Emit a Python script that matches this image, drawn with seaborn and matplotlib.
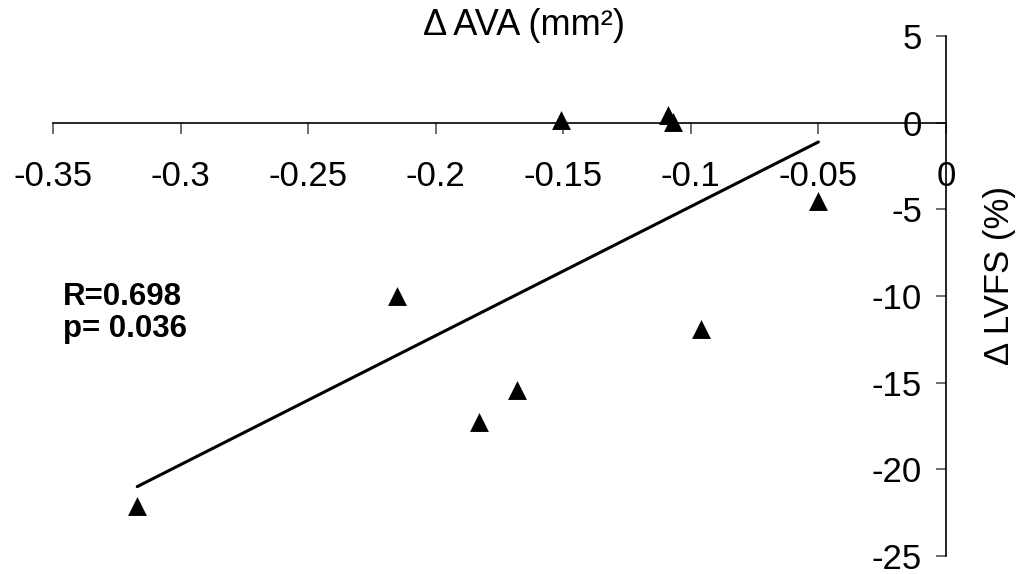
import numpy as np
import pandas as pd
import matplotlib
matplotlib.use('Agg')
import matplotlib.pyplot as plt
import seaborn as sns

# Δ AVA (mm²) vs Δ LVFS (%)
d_ava = [-0.317, -0.215, -0.183, -0.168, -0.151, -0.109, -0.107, -0.096, -0.050]
d_lvfs = [-22.1, -10.0, -17.25, -15.4, 0.17, 0.45, 0.06, -11.9, -4.5]
x_ticks = [-0.35, -0.3, -0.25, -0.2, -0.15, -0.1, -0.05, 0]
x_tick_labels = ['-0.35', '-0.3', '-0.25', '-0.2', '-0.15', '-0.1', '-0.05', '0']
y_ticks = [5, 0, -5, -10, -15, -20, -25]
stats_text = 'R=0.698\np= 0.036'

sns.set_style('white')
plt.rcParams['font.family'] = ['Liberation Sans', 'DejaVu Sans']
plt.rcParams['axes.unicode_minus'] = False
plt.rcParams['text.color'] = 'black'
plt.rcParams['axes.labelcolor'] = 'black'
plt.rcParams['xtick.labelcolor'] = 'black'
plt.rcParams['ytick.labelcolor'] = 'black'

df = pd.DataFrame({'ava': d_ava, 'lvfs': d_lvfs})

fig = plt.figure(figsize=(10.28, 5.74), dpi=100)
ax = fig.add_axes([53 / 1028, 18 / 574, 893 / 1028, 520 / 574])

# regression line over the data range
sns.regplot(data=df, x='ava', y='lvfs', ax=ax, scatter=False, ci=None,
            truncate=True, color='black', line_kws={'linewidth': 2.2})
sns.scatterplot(data=df, x='ava', y='lvfs', ax=ax, marker='^', s=185,
                color='black', edgecolor='black', linewidth=0, zorder=4,
                clip_on=False)

ax.set_xlim(-0.35, 0)
ax.set_ylim(-25, 5)

# axes cross at the origin
ax.spines['top'].set_visible(False)
ax.spines['right'].set_visible(False)
ax.spines['bottom'].set_position(('data', 0))
ax.spines['left'].set_position(('data', 0))
for sp in ['bottom', 'left']:
    ax.spines[sp].set_linewidth(1.2)
    ax.spines[sp].set_color('black')
    ax.spines[sp].set_zorder(2)

ax.set_xticks(x_ticks)
ax.set_xticklabels(x_tick_labels)
ax.set_yticks(y_ticks)
ax.tick_params(axis='x', direction='out', length=8, width=1.2, color='#555555',
               pad=19, labelsize=25, bottom=True)
ax.tick_params(axis='y', direction='out', length=7.2, width=1.2, color='#555555',
               pad=10, labelsize=25, left=True)

ax.set_xlabel('Δ AVA (mm²)', fontsize=26)
ax.xaxis.set_label_coords(0.527, 1.021)
ax.xaxis.label.set_va('center')
ax.set_ylabel('Δ LVFS (%)', fontsize=25, rotation=90)
ax.yaxis.set_label_coords(1.060, 0.540)
ax.yaxis.label.set_va('center')

ax.text(-0.3462, -9.2, stats_text, fontsize=22.5, fontweight='bold',
        va='top', ha='left', linespacing=1.1)

fig.savefig('out.png', dpi=100)
